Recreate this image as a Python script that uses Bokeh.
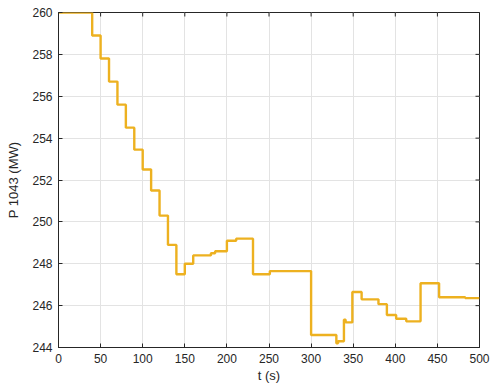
import math
from bokeh.plotting import figure
from bokeh.models import FixedTicker, Range1d
from bokeh.embed import file_html
from bokeh.resources import INLINE

# step start times (s) and held power values (MW)
t_steps = [0, 40, 50, 60, 70, 80, 90, 100, 110, 120, 130, 140, 150, 160, 181, 186,
           200, 211, 231, 251, 300, 330, 332, 339, 341, 349, 360, 380, 390, 401, 413,
           430, 452, 483, 500]
p_values = [260.0, 258.9, 257.8, 256.7, 255.6, 254.5, 253.45, 252.5, 251.5, 250.3, 248.9,
            247.5, 248.0, 248.4, 248.5, 248.6, 249.1, 249.2, 247.5, 247.65, 244.6, 244.2,
            244.3, 245.33, 245.2, 246.65, 246.3, 246.07, 245.55, 245.37, 245.25,
            247.07, 246.4, 246.36, 246.36]

x_ticks = [0, 50, 100, 150, 200, 250, 300, 350, 400, 450, 500]
y_ticks = [244, 246, 248, 250, 252, 254, 256, 258, 260]

FONT = "Liberation Sans"
AX = "#262626"

p = figure(width=490, height=390, output_backend="svg", toolbar_location=None,
           x_range=Range1d(x_ticks[0], x_ticks[-1]), y_range=Range1d(y_ticks[0], y_ticks[-1]),
           min_border_left=58, min_border_right=11, min_border_top=12, min_border_bottom=43)

p.step(t_steps, p_values, mode="after", line_color="#EDB120", line_width=2.4)

p.xaxis.ticker = FixedTicker(ticks=x_ticks)
p.yaxis.ticker = FixedTicker(ticks=y_ticks)
p.xgrid.ticker = FixedTicker(ticks=x_ticks)
p.ygrid.ticker = FixedTicker(ticks=y_ticks)
p.xgrid.grid_line_color = "#e3e3e3"
p.ygrid.grid_line_color = "#e3e3e3"

p.xaxis.axis_label = "t (s)"
p.yaxis.axis_label = "P 1043 (MW)"

for ax in [p.xaxis[0], p.yaxis[0]]:
    ax.major_tick_in = 4
    ax.major_tick_out = 0
    ax.minor_tick_in = 0
    ax.minor_tick_out = 0
    ax.axis_line_color = AX
    ax.major_tick_line_color = AX
    ax.major_label_text_font = FONT
    ax.major_label_text_font_size = "12px"
    ax.major_label_text_color = AX
    ax.axis_label_text_font = FONT
    ax.axis_label_text_font_size = "13px"
    ax.axis_label_text_font_style = "normal"
    ax.axis_label_text_color = AX

p.xaxis.major_label_standoff = 6
p.xaxis.axis_label_standoff = 2
p.yaxis.major_label_standoff = 6
p.yaxis.axis_label_standoff = 8

# inward tick marks on the top and right edges of the box
p.scatter(x_ticks, [y_ticks[-1]] * len(x_ticks), marker="dash", angle=math.pi / 2,
          size=8, line_color=AX, line_width=1)
p.scatter([x_ticks[-1]] * len(y_ticks), y_ticks, marker="dash",
          size=8, line_color=AX, line_width=1)

p.outline_line_color = AX
p.outline_line_width = 1

open("out.html", "w").write(file_html(p, INLINE))
